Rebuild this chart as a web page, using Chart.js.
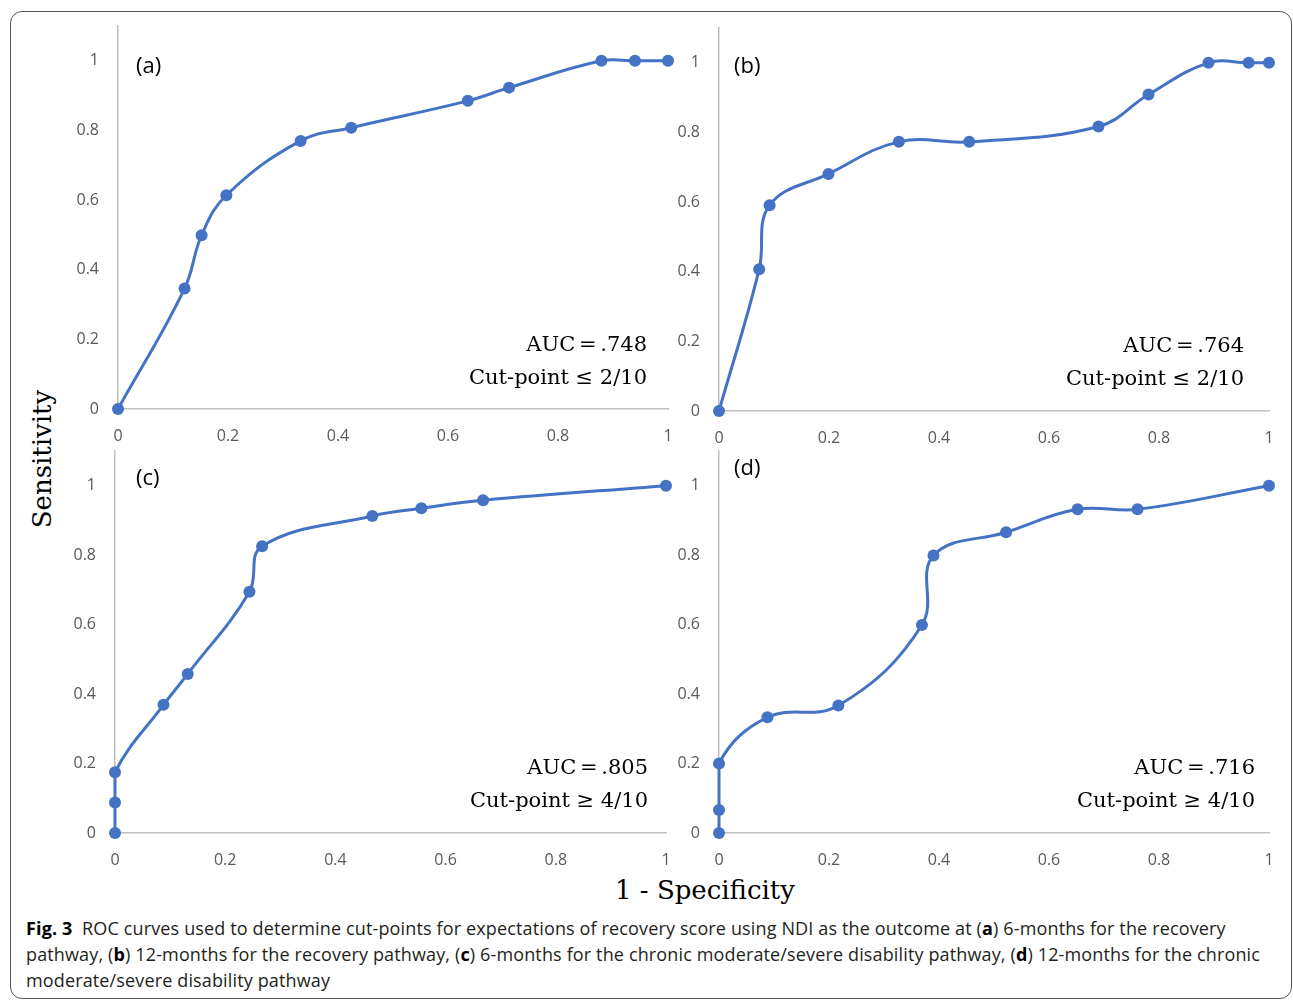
<!DOCTYPE html>
<html>
<head>
<meta charset="utf-8">
<script src="https://cdn.jsdelivr.net/npm/chart.js@4.4.0/dist/chart.umd.min.js"></script>
<style>
    body { margin: 0; background: #fff; width: 1293px; height: 1000px; overflow: hidden; position: relative; font-family: "Open Sans", sans-serif; }
    .frame { position: absolute; left: 10px; top: 11px; width: 1282px; height: 988px; border: 1.5px solid #555; border-radius: 12px; box-sizing: border-box; }
    canvas { position: absolute; }
    .tag { position: absolute; font-family: "Open Sans", sans-serif; font-size: 22px; line-height: 24px; color: #000; }
    .auc { position: absolute; width: 260px; text-align: right; font-family: "DejaVu Serif", serif; font-size: 21px; line-height: 33px; color: #000; }
    .auc .top { word-spacing: -3px; }
    .ytitle { position: absolute; left: 42px; top: 459px; transform: translate(-50%, -50%) rotate(-90deg); font-family: "DejaVu Serif", serif; font-size: 26px; white-space: nowrap; }
    .xtitle { position: absolute; left: 705px; top: 890px; transform: translate(-50%, -50%); font-family: "DejaVu Serif", serif; font-size: 26px; white-space: nowrap; }
    .caption { position: absolute; left: 26px; top: 915px; font-size: 18px; line-height: 26px; letter-spacing: 0.14px; color: #231f20; white-space: nowrap; }
    .caption b { color: #000; }
</style>
</head>
<body>
<div class="frame"></div>

<canvas id="chartA" width="600" height="437" style="left:76px; top:6px"></canvas>
<canvas id="chartB" width="600" height="437" style="left:677px; top:8px"></canvas>
<canvas id="chartC" width="601" height="426" style="left:73px; top:441px"></canvas>
<canvas id="chartD" width="600" height="426" style="left:677px; top:441px"></canvas>

<div class="tag" style="left:136px; top:52px">(a)</div>
<div class="tag" style="left:734px; top:52px">(b)</div>
<div class="tag" style="left:136px; top:464px">(c)</div>
<div class="tag" style="left:734px; top:454px">(d)</div>

<div class="auc" id="aucA" style="left:387px; top:328px"></div>
<div class="auc" id="aucB" style="left:984px; top:329px"></div>
<div class="auc" id="aucC" style="left:388px; top:751px"></div>
<div class="auc" id="aucD" style="left:995px; top:751px"></div>

<div class="ytitle">Sensitivity</div>
<div class="xtitle">1 - Specificity</div>

<div class="caption"><b>Fig. 3</b>&nbsp; ROC curves used to determine cut-points for expectations of recovery score using NDI as the outcome at (<b>a</b>) 6-months for the recovery<br>pathway, (<b>b</b>) 12-months for the recovery pathway, (<b>c</b>) 6-months for the chronic moderate/severe disability pathway, (<b>d</b>) 12-months for the chronic<br>moderate/severe disability pathway</div>

<script>
// ROC points: 1 - specificity (x) and sensitivity (y)
const fprA = [0, 0.121, 0.152, 0.197, 0.332, 0.424, 0.636, 0.711, 0.879, 0.940, 1];
const tprA = [0, 0.346, 0.499, 0.614, 0.770, 0.808, 0.885, 0.923, 1, 1, 1];

const fprB = [0, 0.073, 0.092, 0.199, 0.327, 0.455, 0.690, 0.781, 0.890, 0.963, 1];
const tprB = [0, 0.407, 0.591, 0.681, 0.773, 0.773, 0.817, 0.909, 1, 1, 1];

const fprC = [0, 0, 0, 0.088, 0.132, 0.244, 0.267, 0.467, 0.556, 0.668, 1];
const tprC = [0, 0.088, 0.175, 0.369, 0.458, 0.695, 0.826, 0.913, 0.935, 0.958, 1];

const fprD = [0, 0, 0, 0.088, 0.217, 0.369, 0.390, 0.522, 0.652, 0.761, 1];
const tprD = [0, 0.066, 0.2, 0.333, 0.367, 0.599, 0.799, 0.866, 0.932, 0.932, 1];

const xTicks = [0, 0.2, 0.4, 0.6, 0.8, 1];
const yTicks = [0, 0.2, 0.4, 0.6, 0.8, 1];

const aucText = ['AUC = .748', 'AUC = .764', 'AUC = .805', 'AUC = .716'];
const cutText = ['Cut-point ≤ 2/10', 'Cut-point ≤ 2/10', 'Cut-point ≥ 4/10', 'Cut-point ≥ 4/10'];

const BLUE = '#4472c4';
const AXIS = '#bfbfbf';
const TICK = '#595959';

function makeChart(canvasId, xs, ys, padTop, axisHeight) {
    const points = xs.map((x, i) => ({ x: x, y: ys[i] }));
    const tickFont = { family: 'Open Sans', size: 16 };

    return new Chart(document.getElementById(canvasId), {
        type: 'scatter',
        data: {
            datasets: [{
                data: points,
                showLine: true,
                tension: 0.4,
                borderColor: BLUE,
                backgroundColor: BLUE,
                borderWidth: 3,
                pointRadius: 6,
                pointHoverRadius: 6,
                pointBorderWidth: 0,
                clip: false
            }]
        },
        options: {
            responsive: false,
            animation: false,
            events: [],
            layout: { padding: { top: padTop, right: 8, left: 0, bottom: 0 } },
            plugins: {
                legend: { display: false },
                tooltip: { enabled: false }
            },
            scales: {
                x: {
                    type: 'linear',
                    min: 0,
                    max: 1,
                    afterBuildTicks: scale => { scale.ticks = xTicks.map(v => ({ value: v })); },
                    afterFit: scale => {
                        // fixed axis band, no extra label overflow padding
                        scale.height = axisHeight;
                        scale.paddingLeft = 0;
                        scale.paddingRight = 0;
                    },
                    grid: { display: false, drawTicks: false },
                    border: { display: true, color: AXIS, width: 1.5 },
                    ticks: { padding: 18, color: TICK, font: tickFont, maxRotation: 0, callback: v => String(v) }
                },
                y: {
                    type: 'linear',
                    min: 0,
                    max: 1.1,
                    afterBuildTicks: scale => { scale.ticks = yTicks.map(v => ({ value: v })); },
                    afterFit: scale => {
                        scale.width = 42;
                        scale.paddingTop = 0;
                        scale.paddingBottom = 0;
                    },
                    grid: { display: false, drawTicks: false },
                    border: { display: true, color: AXIS, width: 1.5 },
                    ticks: { padding: 19, color: TICK, font: tickFont, callback: v => String(v) }
                }
            }
        }
    });
}

makeChart('chartA', fprA, tprA, 20, 34);
makeChart('chartB', fprB, tprB, 20, 34);
makeChart('chartC', fprC, tprC, 10, 34);
makeChart('chartD', fprD, tprD, 10, 34);

['aucA', 'aucB', 'aucC', 'aucD'].forEach((id, i) => {
    document.getElementById(id).innerHTML = '<span class="top">' + aucText[i] + '</span><br>' + cutText[i];
});
</script>
</body>
</html>
